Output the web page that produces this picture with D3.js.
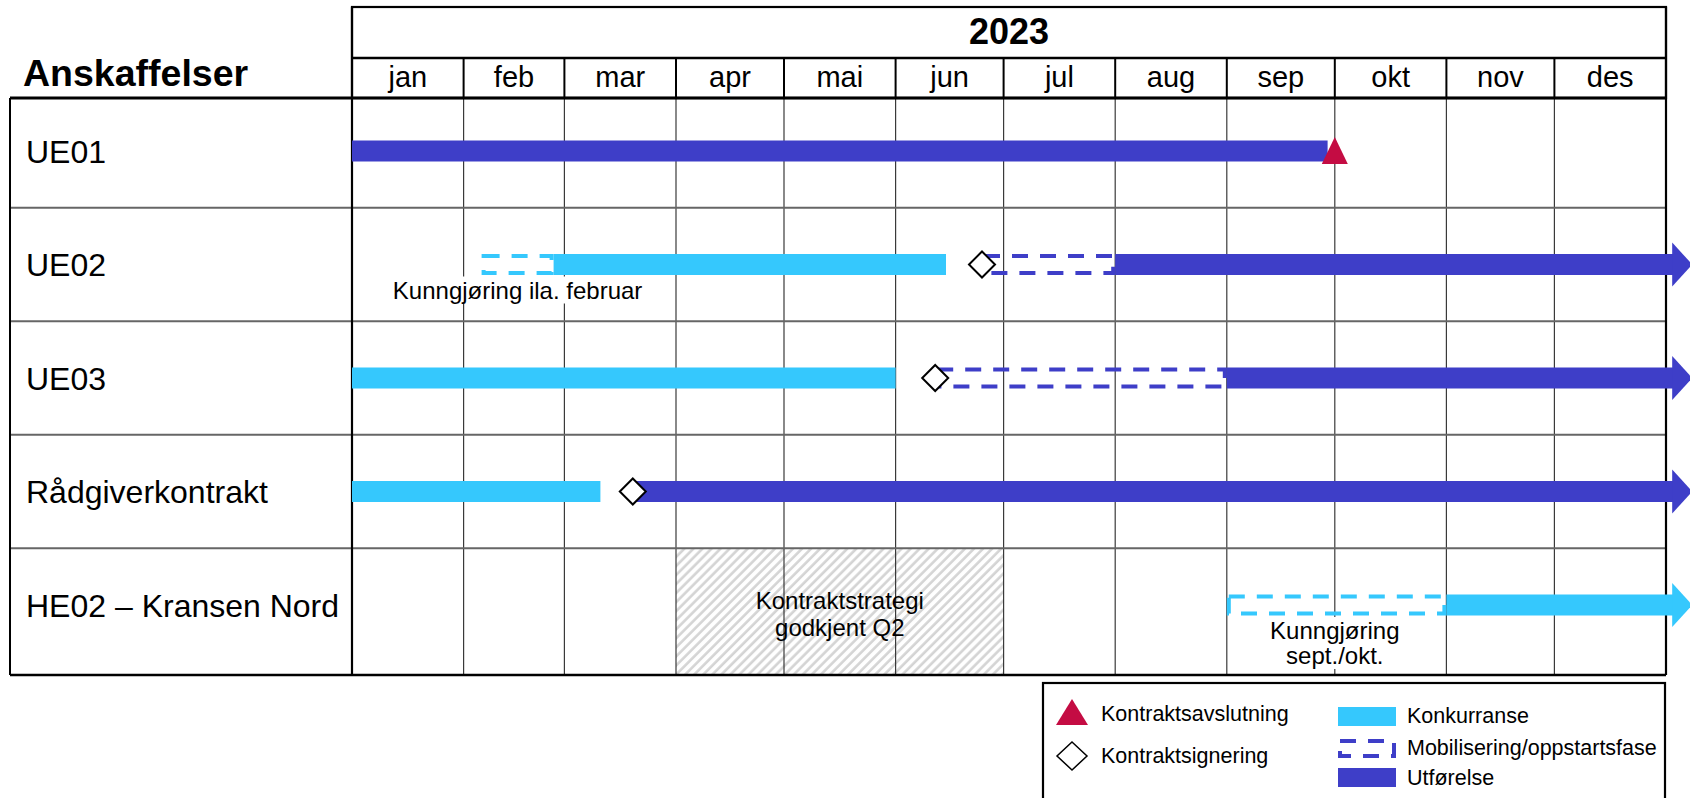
<!DOCTYPE html>
<html>
<head>
<meta charset="utf-8">
<script src="https://cdn.jsdelivr.net/npm/d3@7"></script>
<style>
  html, body { margin: 0; padding: 0; background: #fff; }
  svg { display: block; font-family: "Liberation Sans", Arial, Helvetica, sans-serif; }
</style>
</head>
<body>
<svg id="chart" width="1690" height="798"></svg>
<script>
// ---------------- DATA ----------------
const title = "Anskaffelser";
const year = "2023";
const months = ["jan", "feb", "mar", "apr", "mai", "jun", "jul", "aug", "sep", "okt", "nov", "des"];
const rows = ["UE01", "UE02", "UE03", "Rådgiverkontrakt", "HE02 – Kransen Nord"];

// Konkurranse (solid light blue)
const konkurranse = [
  { row: "UE02", start: "2023-02-26", end: "2023-06-15", arrow: false },
  { row: "UE03", start: "2023-01-01", end: "2023-06-01", arrow: false },
  { row: "Rådgiverkontrakt", start: "2023-01-01", end: "2023-03-11", arrow: false },
  { row: "HE02 – Kransen Nord", start: "2023-11-01", end: "2024-01-03", arrow: true }
];
// Kunngjøring (dashed light blue)
const kunngjoring = [
  { row: "UE02", start: "2023-02-06", end: "2023-02-26" },
  { row: "HE02 – Kransen Nord", start: "2023-09-01", end: "2023-11-01" }
];
// Mobilisering/oppstartsfase (dashed dark blue)
const mobilisering = [
  { row: "UE02", start: "2023-06-25", end: "2023-08-01" },
  { row: "UE03", start: "2023-06-12", end: "2023-09-01" }
];
// Utførelse (solid dark blue)
const utforelse = [
  { row: "UE01", start: "2023-01-01", end: "2023-09-29", arrow: false },
  { row: "UE02", start: "2023-08-01", end: "2024-01-03", arrow: true },
  { row: "UE03", start: "2023-09-01", end: "2024-01-03", arrow: true },
  { row: "Rådgiverkontrakt", start: "2023-03-20", end: "2024-01-03", arrow: true }
];
// Kontraktsignering (diamond)
const signering = [
  { row: "UE02", date: "2023-06-25" },
  { row: "UE03", date: "2023-06-12" },
  { row: "Rådgiverkontrakt", date: "2023-03-20" }
];
// Kontraktsavslutning (triangle)
const avslutning = [
  { row: "UE01", date: "2023-10-01" }
];
// Hatched period
const strategi = [
  { row: "HE02 – Kransen Nord", start: "2023-04-01", end: "2023-07-01", lines: ["Kontraktstrategi", "godkjent Q2"] }
];
// Notes
const notes = [
  { row: "UE02", date: "2023-02-16", lines: ["Kunngjøring ila. februar"] },
  { row: "HE02 – Kransen Nord", date: "2023-10-01", lines: ["Kunngjøring", "sept./okt."] }
];
const legendMarkers = ["Kontraktsavslutning", "Kontraktsignering"];
const legendPhases = ["Konkurranse", "Mobilisering/oppstartsfase", "Utførelse"];

// ---------------- STYLE ----------------
const C_DARK = "#3e3ec8";
const C_LIGHT = "#35c8fd";
const C_RED = "#c40c43";
const BAR_H = 21;
const DASH = "16,12";

// ---------------- SCALES ----------------
const parse = d3.utcParse("%Y-%m-%d");
const x = d3.scaleUtc()
  .domain([parse("2023-01-01"), parse("2024-01-01")])
  .range([352, 1666]);
const y = d3.scalePoint().domain(rows).range([151, 605]);
const step = y.step();

const headerTop = 7, yearBottom = 58, headerBottom = 98, bodyBottom = 675;
const tableLeft = 10;
const x0 = x.range()[0], x1 = x.range()[1];

const svg = d3.select("#chart");

// hatch pattern
const defs = svg.append("defs");
const pat = defs.append("pattern")
  .attr("id", "hatch").attr("patternUnits", "userSpaceOnUse")
  .attr("width", 6.4).attr("height", 6.4)
  .attr("patternTransform", "rotate(45)");
pat.append("rect").attr("width", 6.4).attr("height", 6.4).attr("fill", "#fff");
pat.append("line").attr("x1", 1.5).attr("y1", 0).attr("x2", 1.5).attr("y2", 6.4)
  .attr("stroke", "#d4d4d4").attr("stroke-width", 2.6);

svg.append("rect").attr("width", 1690).attr("height", 798).attr("fill", "#fff");

// row bounds
const rowBounds = rows.map((r, i) => {
  const c = y(r);
  const top = i === 0 ? headerBottom : c - step / 2;
  const bottom = i === rows.length - 1 ? bodyBottom : c + step / 2;
  return { row: r, top, bottom };
});
const boundOf = r => rowBounds.find(b => b.row === r);

// hatched areas
strategi.forEach(d => {
  const b = boundOf(d.row);
  svg.append("rect")
    .attr("x", x(parse(d.start))).attr("y", b.top)
    .attr("width", x(parse(d.end)) - x(parse(d.start)))
    .attr("height", b.bottom - b.top)
    .attr("fill", "url(#hatch)");
});

// month grid
const monthStarts = x.ticks(d3.utcMonth.every(1)); // 13 dates
const inner = monthStarts.slice(1, -1);
svg.append("g").selectAll("line").data(inner).join("line")
  .attr("x1", d => x(d)).attr("x2", d => x(d))
  .attr("y1", headerBottom).attr("y2", bodyBottom)
  .attr("stroke", "#3a3a3a").attr("stroke-width", 1.2);

// row separators
svg.append("g").selectAll("line").data(rowBounds.slice(1)).join("line")
  .attr("x1", tableLeft).attr("x2", x1)
  .attr("y1", d => d.top).attr("y2", d => d.top)
  .attr("stroke", "#666").attr("stroke-width", 2.2);

// header
svg.append("rect").attr("x", x0).attr("y", headerTop)
  .attr("width", x1 - x0).attr("height", headerBottom - headerTop)
  .attr("fill", "none").attr("stroke", "#000").attr("stroke-width", 2.2);
svg.append("line").attr("x1", x0).attr("x2", x1).attr("y1", yearBottom).attr("y2", yearBottom)
  .attr("stroke", "#000").attr("stroke-width", 2.5);
svg.append("g").selectAll("line").data(inner).join("line")
  .attr("x1", d => x(d)).attr("x2", d => x(d))
  .attr("y1", yearBottom).attr("y2", headerBottom)
  .attr("stroke", "#000").attr("stroke-width", 2);
svg.append("text").attr("x", (x0 + x1) / 2).attr("y", 44)
  .attr("text-anchor", "middle").attr("font-size", 36).attr("font-weight", "bold")
  .text(year);
svg.append("g").selectAll("text").data(months).join("text")
  .attr("x", (d, i) => (x(monthStarts[i]) + x(monthStarts[i + 1])) / 2)
  .attr("y", 87).attr("text-anchor", "middle").attr("font-size", 29)
  .text(d => d);

// title
svg.append("text").attr("x", 23).attr("y", 86)
  .attr("font-size", 37.5).attr("font-weight", "bold").text(title);

// table borders
svg.append("line").attr("x1", tableLeft).attr("x2", x1).attr("y1", headerBottom).attr("y2", headerBottom)
  .attr("stroke", "#000").attr("stroke-width", 3);
svg.append("line").attr("x1", tableLeft).attr("x2", x1).attr("y1", bodyBottom).attr("y2", bodyBottom)
  .attr("stroke", "#000").attr("stroke-width", 2.5);
svg.append("line").attr("x1", tableLeft).attr("x2", tableLeft).attr("y1", headerBottom).attr("y2", bodyBottom)
  .attr("stroke", "#000").attr("stroke-width", 2);
[x0, x1].forEach(xx => {
  svg.append("line").attr("x1", xx).attr("x2", xx).attr("y1", headerTop).attr("y2", bodyBottom)
    .attr("stroke", "#000").attr("stroke-width", 2.2);
});

// row labels
svg.append("g").selectAll("text").data(rows).join("text")
  .attr("x", 26).attr("y", d => y(d) + 11.5)
  .attr("font-size", 32).text(d => d);

// strategi text
strategi.forEach(d => {
  const cx = (x(parse(d.start)) + x(parse(d.end))) / 2;
  const t = svg.append("text").attr("text-anchor", "middle").attr("font-size", 24);
  d.lines.forEach((l, i) => {
    t.append("tspan").attr("x", cx).attr("y", y(d.row) + 4 + i * 27).text(l);
  });
});

// bars
const bars = svg.append("g");
function solidBar(d, color) {
  const xs = x(parse(d.start)), xe = x(parse(d.end)), cy = y(d.row);
  bars.append("rect").attr("x", xs).attr("y", cy - BAR_H / 2)
    .attr("width", xe - xs).attr("height", BAR_H).attr("fill", color);
  if (d.arrow) {
    bars.append("path")
      .attr("d", `M${xe - 1},${cy - 22} L${xe + 19},${cy} L${xe - 1},${cy + 22} Z`)
      .attr("fill", color);
  }
}
function dashedBar(d, color) {
  const xs = x(parse(d.start)), xe = x(parse(d.end)), cy = y(d.row);
  bars.append("rect").attr("x", xs + 2).attr("y", cy - BAR_H / 2 + 2)
    .attr("width", xe - xs - 4).attr("height", BAR_H - 4)
    .attr("fill", "none").attr("stroke", color).attr("stroke-width", 4)
    .attr("stroke-dasharray", DASH);
}
kunngjoring.forEach(d => dashedBar(d, C_LIGHT));
mobilisering.forEach(d => dashedBar(d, C_DARK));
konkurranse.forEach(d => solidBar(d, C_LIGHT));
utforelse.forEach(d => solidBar(d, C_DARK));

// markers
const diamond = (cx, cy, hw, hh) => `M${cx},${cy - hh} L${cx + hw},${cy} L${cx},${cy + hh} L${cx - hw},${cy} Z`;
svg.append("g").selectAll("path").data(signering).join("path")
  .attr("d", d => diamond(x(parse(d.date)), y(d.row), 13, 13))
  .attr("fill", "#fff").attr("stroke", "#000").attr("stroke-width", 2);
svg.append("g").selectAll("path").data(avslutning).join("path")
  .attr("d", d => {
    const cx = x(parse(d.date)), cy = y(d.row);
    return `M${cx},${cy - 14} L${cx + 13},${cy + 13} L${cx - 13},${cy + 13} Z`;
  })
  .attr("fill", C_RED);

// notes with white background
notes.forEach(d => {
  const cx = x(parse(d.date)), cy = y(d.row);
  const g = svg.append("g");
  const bg = g.append("rect").attr("fill", "#fff");
  const t = g.append("text").attr("text-anchor", "middle").attr("font-size", 24);
  d.lines.forEach((l, i) => {
    t.append("tspan").attr("x", cx).attr("y", cy + 34 + i * 25).text(l);
  });
  const bb = t.node().getBBox();
  bg.attr("x", bb.x - 1).attr("y", bb.y).attr("width", bb.width + 2).attr("height", bb.height);
});

// legend
const lg = svg.append("g");
lg.append("rect").attr("x", 1043).attr("y", 683).attr("width", 622).attr("height", 140)
  .attr("fill", "#fff").attr("stroke", "#000").attr("stroke-width", 2.2);
lg.append("path").attr("d", "M1072,699 L1088,725 L1056,725 Z").attr("fill", C_RED);
lg.append("path").attr("d", diamond(1072, 756, 15, 14))
  .attr("fill", "#fff").attr("stroke", "#000").attr("stroke-width", 1.5);
lg.selectAll("text.m").data(legendMarkers).join("text").attr("class", "m")
  .attr("x", 1101).attr("y", (d, i) => 721 + i * 42).attr("font-size", 21.5).text(d => d);
lg.append("rect").attr("x", 1338).attr("y", 707).attr("width", 58).attr("height", 19).attr("fill", C_LIGHT);
lg.append("rect").attr("x", 1340).attr("y", 741).attr("width", 54).attr("height", 15)
  .attr("fill", "none").attr("stroke", C_DARK).attr("stroke-width", 4).attr("stroke-dasharray", DASH);
lg.append("rect").attr("x", 1338).attr("y", 768).attr("width", 58).attr("height", 19).attr("fill", C_DARK);
lg.selectAll("text.p").data(legendPhases).join("text").attr("class", "p")
  .attr("x", 1407).attr("y", (d, i) => [723, 755, 785][i]).attr("font-size", 21.5).text(d => d);
</script>
</body>
</html>
